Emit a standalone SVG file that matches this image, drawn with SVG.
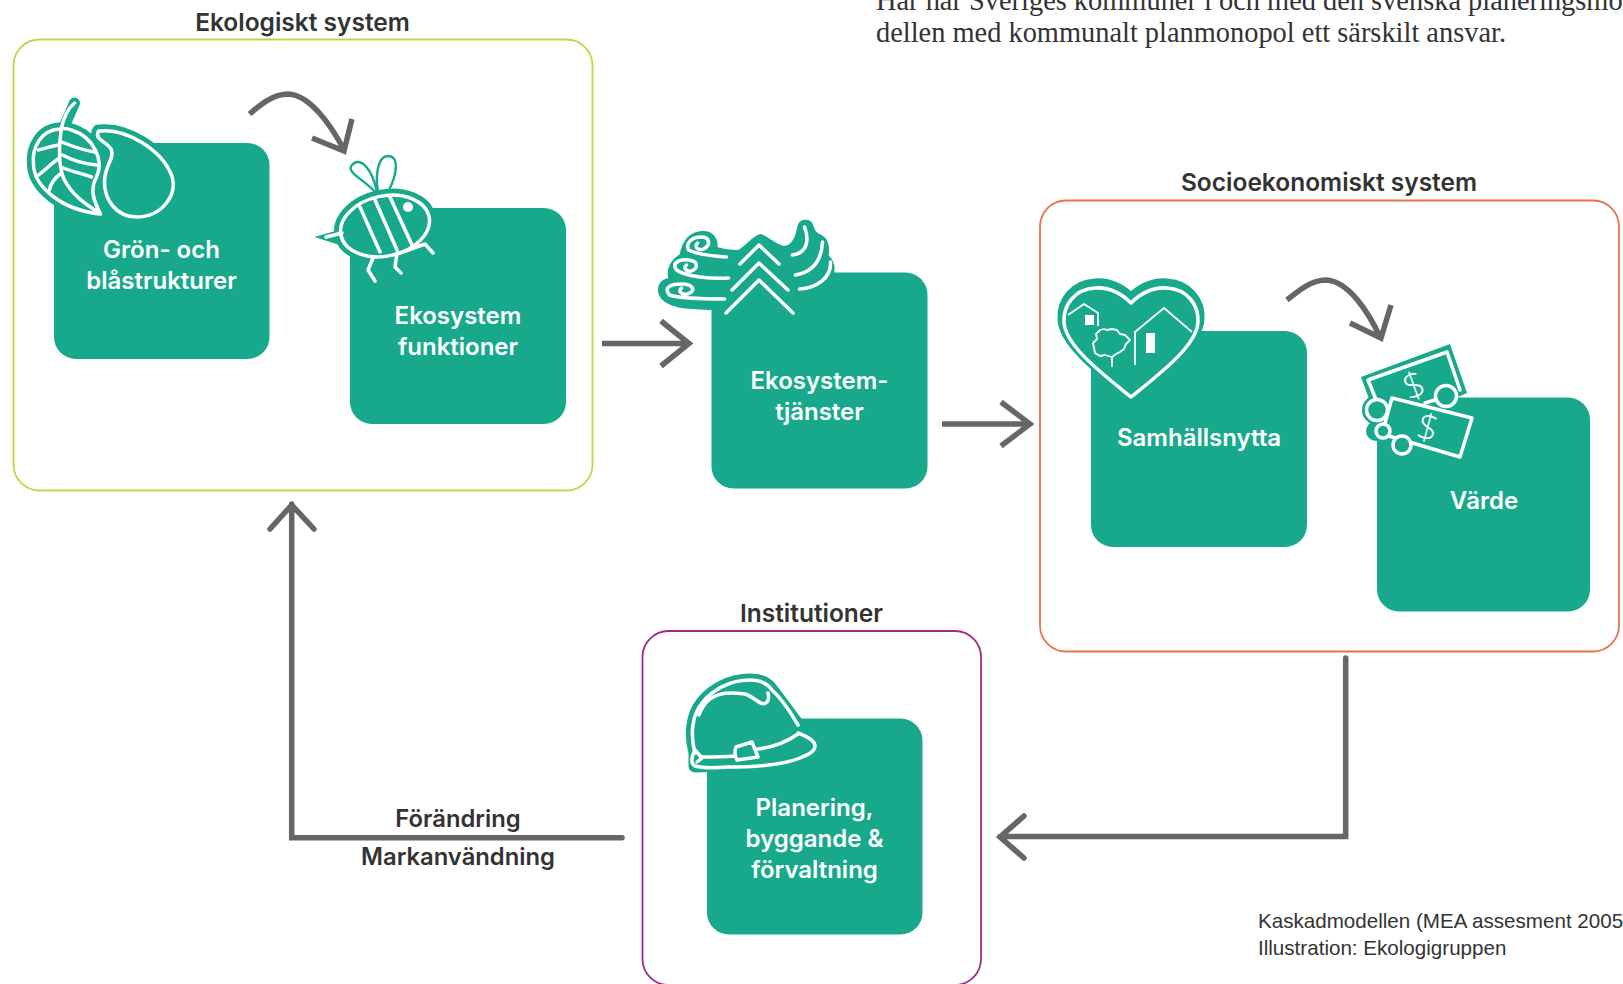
<svg xmlns="http://www.w3.org/2000/svg" width="1623" height="984" viewBox="0 0 1623 984">
<style>
text{font-family:Inter,"Liberation Sans",Arial,sans-serif}
.card{fill:#18a98d}
.lbl{fill:#fff;font-size:24px;font-weight:600;text-anchor:middle}
.title{fill:#333;font-size:24.500px;font-weight:600;text-anchor:middle}
.chg{fill:#333;font-size:23.800px;font-weight:600;text-anchor:middle}
.box{fill:#fff;stroke-width:1.8}
.conn{fill:none;stroke:#666;stroke-width:5.5;stroke-linejoin:miter}
.halo{fill:#18a98d;stroke:#18a98d;stroke-width:13;stroke-linejoin:round}
.w{fill:none;stroke:#fff;stroke-width:3.5;stroke-linecap:round;stroke-linejoin:round}
.wt{fill:#18a98d;stroke:#fff;stroke-width:3.5;stroke-linejoin:round}
.th{fill:none;stroke:#fff;stroke-width:1.8;stroke-linejoin:round}
.body{font-family:"Liberation Serif",serif;fill:#333;font-size:28.400px}
.cap{font-family:"Liberation Sans",Arial,sans-serif;fill:#333;font-size:20.600px}
.usd{font-family:"Open Sans",sans-serif;fill:#fff;font-size:36px;font-weight:300;text-anchor:middle}
</style>

<g id="body-text">
<text class="body" x="876" y="10">Här har Sveriges kommuner i och med den svenska planeringsmo-</text>
<text class="body" x="876" y="42">dellen med kommunalt planmonopol ett särskilt ansvar.</text>
</g>

<g id="ekologiskt-system">
<rect class="box" stroke="#c3d544" x="13.5" y="39.5" width="579" height="451" rx="26"/>
<text class="title" x="302.5" y="31">Ekologiskt system</text>
</g>
<g id="socioekonomiskt-system">
<rect class="box" stroke="#e8734a" x="1040" y="200.5" width="579" height="451" rx="26"/>
<text class="title" x="1329" y="191">Socioekonomiskt system</text>
</g>
<g id="institutioner">
<rect class="box" stroke="#a3278f" x="642.5" y="631" width="338.5" height="354" rx="26"/>
<text class="title" x="811.5" y="621.500">Institutioner</text>
</g>

<g id="connectors">
<path class="conn" d="M602,343.500H688M661,321L689,343.500L661,366"/>
<path class="conn" d="M942,424H1028M1001,402L1030,424L1001,446"/>
<path class="conn" d="M1345.700,658V836.500H1000M1024,816L1000,837L1024,858" stroke-linecap="round"/>
<path class="conn" d="M622,837.700H291.700V504M270,529L291.700,505L314,529" stroke-linecap="round"/>
<path class="conn" d="M249.500,114C260,105 273,94 288,94C310,95 331,125 344,150M352,119L344,151L312,138"/>
<path class="conn" d="M1287,300C1298,291 1311,280 1326,280C1348,281 1368,311 1380,337M1391,305L1381,338L1350,323"/>
</g>

<g id="gron-och-blastrukturer">
<rect class="card" x="54" y="143" width="215.500" height="216" rx="22"/>
<g transform="translate(1.500 0)">
<path class="halo" d="M58,129C40,130 30,147 32,165C33,187 60,210 99,214C92,200 88,190 95,177C103,160 92,137 70,130C65,128 62,128 58,129Z" stroke-width="11"/>
<path d="M73,103L62,128" stroke="#18a98d" stroke-width="11" stroke-linecap="round"/>
<path class="halo" d="M98,131C125,128 160,150 170,175C177,195 160,217 135,217C115,217 103,200 103,182C103,165 113,160 110,150C107,142 92,140 97,131Z"/>
<path class="wt" d="M58,129C40,130 30,147 32,165C33,187 60,210 99,214C92,200 88,190 95,177C103,160 92,137 70,130C65,128 62,128 58,129Z"/>
<path class="w" d="M73,103C67,108 62,118 60,128C57,145 57,165 62,178C70,195 85,205 98,213M60,142C70,146 80,150 93,152M58,145C50,146 44,148 37,150M61,155C72,161 83,164 95,165M58,158C50,163 44,170 37,175M62,168C72,172 82,174 90,177M60,173C53,178 49,184 48,190"/>
<path class="wt" d="M98,131C125,128 160,150 170,175C177,195 160,217 135,217C115,217 103,200 103,182C103,165 113,160 110,150C107,142 92,140 97,131Z"/>
</g>
<text class="lbl" x="161.500" y="257.500">Grön- och</text>
<text class="lbl" x="161.500" y="288.500">blåstrukturer</text>
</g>

<g id="ekosystem-funktioner">
<rect class="card" x="350" y="208" width="216" height="216" rx="22"/>
<ellipse class="halo" cx="385" cy="226" rx="45" ry="30" transform="rotate(-12 385 226)"/>
<path d="M317,237L342,230L345,246Z" fill="#18a98d" stroke="#18a98d" stroke-width="1.500"/>
<path d="M375,192C365,180 345,172 352,165C360,156 372,168 377,192M378,192C375,175 378,156 388,156C400,156 397,175 388,192" fill="none" stroke="#18a98d" stroke-width="2.400"/>
<ellipse class="wt" cx="385" cy="226" rx="45" ry="30" transform="rotate(-12 385 226)"/>
<path class="w" stroke-width="2" d="M326,237L342,233"/>
<path class="w" d="M360,207L380,252M375,200L397,250M390,197L412,245M373,258L368,270L375,281M397,253L395,267L401,273M400,253L425,244L433,253"/>
<circle cx="408" cy="207" r="5" fill="#fff"/>
<text class="lbl" x="458" y="323.500">Ekosystem</text>
<text class="lbl" x="458" y="354.500">funktioner</text>
</g>

<g id="ekosystem-tjanster">
<rect class="card" x="711.500" y="272.500" width="216" height="216" rx="22"/>
<g transform="translate(1.500 0)">
<path d="M658,294C656,285 660,280 668,279C665,270 670,260 679,255C681,245 686,233 700,232C710,231 716,238 715,248C725,251 732,251 737,251C745,247 752,236 759,235C766,237 772,244 782,247C790,247 795,238 797,226C799,219 809,219 811,226C813,232 814,234 820,236C827,240 827,250 826,256C832,260 834,270 830,278C825,290 810,296 790,300L711,309C695,308 665,310 658,294Z" fill="#18a98d" stroke="#18a98d" stroke-width="2"/>
<path class="w" stroke-width="3" d="M725,257C710,256 695,254 687,250C684,243 690,237 700,237C708,237 710,245 702,249C697,251 692,247 696,243"/>
<path class="w" stroke-width="3" d="M727,278C710,279 685,277 675,270C670,263 677,259 687,260C697,261 697,268 690,271C685,272 681,268 685,265"/>
<path class="w" stroke-width="3" d="M723,299C705,299 680,299 668,295C662,288 668,284 680,284C692,284 695,291 686,294C680,295 676,291 680,288"/>
<path class="w" d="M803,227C808,240 806,253 791,255M821,242C820,260 812,272 794,275M829,262C830,278 815,288 798,289"/>
</g>
<path class="w" d="M740,264L759,245L779,264M732,290L759,263L788,290M726,313L759,280L793,313"/>
<text class="lbl" x="819.500" y="388.500">Ekosystem-</text>
<text class="lbl" x="819.500" y="419.500">tjänster</text>
</g>

<g id="samhallsnytta">
<rect class="card" x="1091" y="331" width="216" height="216" rx="22"/>
<path class="halo" stroke-width="15" transform="translate(0 -3)" d="M1131,303C1120,292 1108,287 1095,288C1075,289 1063,305 1064,322C1065,345 1100,372 1131,397C1162,372 1197,345 1198,322C1199,305 1187,289 1167,288C1154,287 1142,292 1131,303Z"/>
<path class="wt" d="M1131,303C1120,292 1108,287 1095,288C1075,289 1063,305 1064,322C1065,345 1100,372 1131,397C1162,372 1197,345 1198,322C1199,305 1187,289 1167,288C1154,287 1142,292 1131,303Z"/>
<path class="th" d="M1068,315L1084,304L1098,313V326M1135,365V332L1164,308L1192,332"/>
<rect x="1085" y="315" width="9" height="10" fill="#fff"/>
<rect x="1146" y="333" width="9" height="20" fill="#fff"/>
<path class="th" d="M1100,330L1104,329L1107,330L1112,329L1117,330L1120,334L1125,335L1130,340L1126,344L1124,349L1120,352L1116,354L1112,357L1105,355L1100,356L1095,353L1094,348L1093,343L1097,339L1096,334ZM1112,357V367"/>
<text class="lbl" x="1199" y="445.500">Samhällsnytta</text>
</g>

<g id="varde">
<rect class="card" x="1377" y="397.500" width="213" height="214" rx="22"/>
<path d="M1361,377L1450,344L1467,393L1440,405L1395,405L1375,415Z" fill="#18a98d"/>
<circle cx="1377" cy="410" r="15" fill="#18a98d"/>
<circle cx="1376" cy="431" r="10" fill="#18a98d"/>
<path class="w" stroke-width="3" d="M1377,402L1368,380L1447,352L1460,390M1425,403L1435,400"/>
<path class="wt" d="M1392,398L1472,418L1460,457L1382,434Z"/>
<circle class="wt" cx="1377" cy="410" r="10.500" stroke-width="2.500"/>
<circle class="wt" cx="1383" cy="431" r="7" stroke-width="2.500"/>
<circle class="wt" cx="1402" cy="445" r="9" stroke-width="2.500"/>
<circle class="wt" cx="1446" cy="396" r="10.500" stroke-width="2.500"/>
<text class="usd" x="1414" y="398" transform="rotate(-20 1414 385)">$</text>
<text class="usd" x="1428" y="440" transform="rotate(15 1428 427)">$</text>
<text class="lbl" x="1484" y="508.500">Värde</text>
</g>

<g id="planering">
<rect class="card" x="707" y="718.500" width="215.500" height="216" rx="22"/>
<path class="halo" stroke-width="10" d="M695,753C690,735 692,715 702,703C712,690 730,680 750,680C760,680 768,684 772,690L798,725V740L807,750L777,765H727L695,766Z"/>
<path class="w" d="M695,753C690,735 692,715 702,703C712,690 730,680 750,680C760,680 768,684 772,690C785,702 792,715 798,725"/>
<path class="w" stroke-width="2.800" d="M798,733C806,736 815,740 815,746C815,752 807,755 800,758C780,766 750,767 727,767C715,768 702,768 695,766C691,764 691,758 694,752M702,757C712,757 724,757 734,756M758,749C775,747 788,741 798,734M695,750L702,758L697,762M736,747L752,742L758,757L737,760C734,755 735,750 736,747Z"/>
<path class="w" stroke-width="2" d="M699,715C708,690 730,692 745,694C755,697 762,708 767,702C769,700 769,697 768,693"/>
<text class="lbl" x="814.500" y="815.500">Planering,</text>
<text class="lbl" x="814.500" y="846.500">byggande &amp;</text>
<text class="lbl" x="814.500" y="877.500">förvaltning</text>
</g>

<g id="change-labels">
<text class="chg" x="458" y="827">Förändring</text>
<text class="chg" x="458" y="865">Markanvändning</text>
</g>

<g id="caption">
<text class="cap" x="1258" y="928">Kaskadmodellen (MEA assesment 2005</text>
<text class="cap" x="1258" y="955">Illustration: Ekologigruppen</text>
</g>
</svg>
